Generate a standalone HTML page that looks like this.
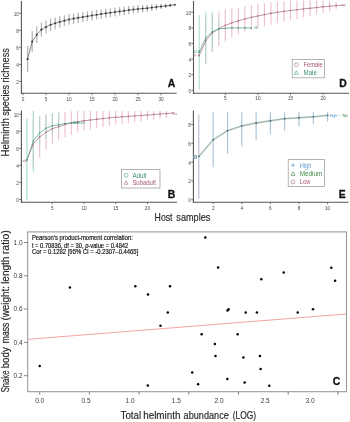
<!DOCTYPE html>
<html><head><meta charset="utf-8"><style>
html,body{margin:0;padding:0;background:#fff;width:350px;height:422px;overflow:hidden}
svg{display:block;font-family:"Liberation Sans", sans-serif;will-change:transform}
</style></head><body>
<svg width="350" height="422" viewBox="0 0 350 422">
<rect width="350" height="422" fill="#fff"/>
<line x1="21.40" y1="1.00" x2="21.40" y2="93.80" stroke="#555555" stroke-width="1.1" />
<line x1="20.80" y1="93.20" x2="176.60" y2="93.20" stroke="#555555" stroke-width="1.1" />
<line x1="19.20" y1="81.46" x2="21.40" y2="81.46" stroke="#555555" stroke-width="0.8" />
<text x="18.90" y="83.96" font-size="4.7" fill="#454545" text-anchor="end" font-weight="normal" >2</text>
<line x1="19.20" y1="64.42" x2="21.40" y2="64.42" stroke="#555555" stroke-width="0.8" />
<text x="18.90" y="66.92" font-size="4.7" fill="#454545" text-anchor="end" font-weight="normal" >4</text>
<line x1="19.20" y1="47.38" x2="21.40" y2="47.38" stroke="#555555" stroke-width="0.8" />
<text x="18.90" y="49.88" font-size="4.7" fill="#454545" text-anchor="end" font-weight="normal" >6</text>
<line x1="19.20" y1="30.34" x2="21.40" y2="30.34" stroke="#555555" stroke-width="0.8" />
<text x="18.90" y="32.84" font-size="4.7" fill="#454545" text-anchor="end" font-weight="normal" >8</text>
<line x1="19.20" y1="13.30" x2="21.40" y2="13.30" stroke="#555555" stroke-width="0.8" />
<text x="18.90" y="15.80" font-size="4.7" fill="#454545" text-anchor="end" font-weight="normal" >10</text>
<line x1="23.00" y1="93.20" x2="23.00" y2="95.20" stroke="#555555" stroke-width="0.8" />
<text x="23.00" y="100.60" font-size="4.7" fill="#454545" text-anchor="middle" font-weight="normal" >0</text>
<line x1="46.00" y1="93.20" x2="46.00" y2="95.20" stroke="#555555" stroke-width="0.8" />
<text x="46.00" y="100.60" font-size="4.7" fill="#454545" text-anchor="middle" font-weight="normal" >5</text>
<line x1="69.00" y1="93.20" x2="69.00" y2="95.20" stroke="#555555" stroke-width="0.8" />
<text x="69.00" y="100.60" font-size="4.7" fill="#454545" text-anchor="middle" font-weight="normal" >10</text>
<line x1="92.00" y1="93.20" x2="92.00" y2="95.20" stroke="#555555" stroke-width="0.8" />
<text x="92.00" y="100.60" font-size="4.7" fill="#454545" text-anchor="middle" font-weight="normal" >15</text>
<line x1="115.00" y1="93.20" x2="115.00" y2="95.20" stroke="#555555" stroke-width="0.8" />
<text x="115.00" y="100.60" font-size="4.7" fill="#454545" text-anchor="middle" font-weight="normal" >20</text>
<line x1="138.00" y1="93.20" x2="138.00" y2="95.20" stroke="#555555" stroke-width="0.8" />
<text x="138.00" y="100.60" font-size="4.7" fill="#454545" text-anchor="middle" font-weight="normal" >25</text>
<line x1="161.00" y1="93.20" x2="161.00" y2="95.20" stroke="#555555" stroke-width="0.8" />
<text x="161.00" y="100.60" font-size="4.7" fill="#454545" text-anchor="middle" font-weight="normal" >30</text>
<line x1="27.60" y1="46.02" x2="27.60" y2="72.26" stroke="#b4b4b4" stroke-width="1.3" />
<line x1="32.20" y1="30.94" x2="32.20" y2="52.24" stroke="#b4b4b4" stroke-width="1.3" />
<line x1="36.80" y1="26.51" x2="36.80" y2="43.03" stroke="#b4b4b4" stroke-width="1.3" />
<line x1="41.40" y1="22.67" x2="41.40" y2="36.64" stroke="#b4b4b4" stroke-width="1.3" />
<line x1="46.00" y1="20.54" x2="46.00" y2="33.32" stroke="#b4b4b4" stroke-width="1.3" />
<line x1="50.60" y1="18.67" x2="50.60" y2="30.94" stroke="#b4b4b4" stroke-width="1.3" />
<line x1="55.20" y1="17.43" x2="55.20" y2="29.19" stroke="#b4b4b4" stroke-width="1.3" />
<line x1="59.80" y1="16.20" x2="59.80" y2="27.44" stroke="#b4b4b4" stroke-width="1.3" />
<line x1="64.40" y1="15.13" x2="64.40" y2="26.12" stroke="#b4b4b4" stroke-width="1.3" />
<line x1="69.00" y1="14.07" x2="69.00" y2="24.80" stroke="#b4b4b4" stroke-width="1.3" />
<line x1="73.60" y1="13.39" x2="73.60" y2="23.86" stroke="#b4b4b4" stroke-width="1.3" />
<line x1="78.20" y1="12.70" x2="78.20" y2="22.93" stroke="#b4b4b4" stroke-width="1.3" />
<line x1="82.80" y1="12.03" x2="82.80" y2="22.07" stroke="#b4b4b4" stroke-width="1.3" />
<line x1="87.40" y1="11.35" x2="87.40" y2="21.21" stroke="#b4b4b4" stroke-width="1.3" />
<line x1="92.00" y1="10.68" x2="92.00" y2="20.35" stroke="#b4b4b4" stroke-width="1.3" />
<line x1="96.60" y1="10.01" x2="96.60" y2="19.49" stroke="#b4b4b4" stroke-width="1.3" />
<line x1="101.20" y1="9.42" x2="101.20" y2="18.72" stroke="#b4b4b4" stroke-width="1.3" />
<line x1="105.80" y1="8.83" x2="105.80" y2="17.94" stroke="#b4b4b4" stroke-width="1.3" />
<line x1="110.40" y1="8.24" x2="110.40" y2="17.17" stroke="#b4b4b4" stroke-width="1.3" />
<line x1="115.00" y1="7.65" x2="115.00" y2="16.40" stroke="#b4b4b4" stroke-width="1.3" />
<line x1="119.60" y1="7.10" x2="119.60" y2="15.66" stroke="#b4b4b4" stroke-width="1.3" />
<line x1="124.20" y1="6.55" x2="124.20" y2="14.93" stroke="#b4b4b4" stroke-width="1.3" />
<line x1="128.80" y1="6.01" x2="128.80" y2="14.20" stroke="#b4b4b4" stroke-width="1.3" />
<line x1="133.40" y1="5.46" x2="133.40" y2="13.47" stroke="#b4b4b4" stroke-width="1.3" />
<line x1="138.00" y1="5.18" x2="138.00" y2="12.90" stroke="#b4b4b4" stroke-width="1.3" />
<line x1="142.60" y1="4.91" x2="142.60" y2="12.32" stroke="#b4b4b4" stroke-width="1.3" />
<line x1="147.20" y1="4.63" x2="147.20" y2="11.75" stroke="#b4b4b4" stroke-width="1.3" />
<line x1="151.80" y1="4.21" x2="151.80" y2="11.03" stroke="#b4b4b4" stroke-width="1.3" />
<line x1="156.40" y1="4.07" x2="156.40" y2="10.03" stroke="#b4b4b4" stroke-width="1.3" />
<line x1="161.00" y1="3.93" x2="161.00" y2="9.04" stroke="#b4b4b4" stroke-width="1.3" />
<line x1="165.60" y1="3.80" x2="165.60" y2="8.06" stroke="#b4b4b4" stroke-width="1.3" />
<line x1="170.20" y1="3.93" x2="170.20" y2="6.82" stroke="#b4b4b4" stroke-width="1.3" />
<polyline points="27.60,59.14 32.20,41.59 36.80,34.77 41.40,29.66 46.00,26.93 50.60,24.80 55.20,23.31 59.80,21.82 64.40,20.63 69.00,19.43 73.60,18.62 78.20,17.82 82.80,17.05 87.40,16.28 92.00,15.52 96.60,14.75 101.20,14.07 105.80,13.39 110.40,12.70 115.00,12.02 119.60,11.38 124.20,10.74 128.80,10.11 133.40,9.47 138.00,9.04 142.60,8.61 147.20,8.19 151.80,7.62 156.40,7.05 161.00,6.48 165.60,5.93 170.20,5.38 174.80,4.78" fill="none" stroke="#666" stroke-width="0.8" />
<circle cx="27.60" cy="59.14" r="1.05" fill="#3a3a3a"/>
<circle cx="32.20" cy="41.59" r="1.05" fill="#3a3a3a"/>
<circle cx="36.80" cy="34.77" r="1.05" fill="#3a3a3a"/>
<circle cx="41.40" cy="29.66" r="1.05" fill="#3a3a3a"/>
<circle cx="46.00" cy="26.93" r="1.05" fill="#3a3a3a"/>
<circle cx="50.60" cy="24.80" r="1.05" fill="#3a3a3a"/>
<circle cx="55.20" cy="23.31" r="1.05" fill="#3a3a3a"/>
<circle cx="59.80" cy="21.82" r="1.05" fill="#3a3a3a"/>
<circle cx="64.40" cy="20.63" r="1.05" fill="#3a3a3a"/>
<circle cx="69.00" cy="19.43" r="1.05" fill="#3a3a3a"/>
<circle cx="73.60" cy="18.62" r="1.05" fill="#3a3a3a"/>
<circle cx="78.20" cy="17.82" r="1.05" fill="#3a3a3a"/>
<circle cx="82.80" cy="17.05" r="1.05" fill="#3a3a3a"/>
<circle cx="87.40" cy="16.28" r="1.05" fill="#3a3a3a"/>
<circle cx="92.00" cy="15.52" r="1.05" fill="#3a3a3a"/>
<circle cx="96.60" cy="14.75" r="1.05" fill="#3a3a3a"/>
<circle cx="101.20" cy="14.07" r="1.05" fill="#3a3a3a"/>
<circle cx="105.80" cy="13.39" r="1.05" fill="#3a3a3a"/>
<circle cx="110.40" cy="12.70" r="1.05" fill="#3a3a3a"/>
<circle cx="115.00" cy="12.02" r="1.05" fill="#3a3a3a"/>
<circle cx="119.60" cy="11.38" r="1.05" fill="#3a3a3a"/>
<circle cx="124.20" cy="10.74" r="1.05" fill="#3a3a3a"/>
<circle cx="128.80" cy="10.11" r="1.05" fill="#3a3a3a"/>
<circle cx="133.40" cy="9.47" r="1.05" fill="#3a3a3a"/>
<circle cx="138.00" cy="9.04" r="1.05" fill="#3a3a3a"/>
<circle cx="142.60" cy="8.61" r="1.05" fill="#3a3a3a"/>
<circle cx="147.20" cy="8.19" r="1.05" fill="#3a3a3a"/>
<circle cx="151.80" cy="7.62" r="1.05" fill="#3a3a3a"/>
<circle cx="156.40" cy="7.05" r="1.05" fill="#3a3a3a"/>
<circle cx="161.00" cy="6.48" r="1.05" fill="#3a3a3a"/>
<circle cx="165.60" cy="5.93" r="1.05" fill="#3a3a3a"/>
<circle cx="170.20" cy="5.38" r="1.05" fill="#3a3a3a"/>
<circle cx="174.80" cy="4.78" r="1.05" fill="#3a3a3a"/>
<text x="171.60" y="87.00" font-size="10.4" fill="#111" text-anchor="middle" font-weight="bold" stroke="#111" stroke-width="0.3">A</text>
<line x1="193.50" y1="1.00" x2="193.50" y2="93.80" stroke="#555555" stroke-width="1.1" />
<line x1="192.90" y1="93.20" x2="349.00" y2="93.20" stroke="#555555" stroke-width="1.1" />
<line x1="191.30" y1="90.30" x2="193.50" y2="90.30" stroke="#555555" stroke-width="0.8" />
<text x="191.00" y="92.80" font-size="4.7" fill="#454545" text-anchor="end" font-weight="normal" >0</text>
<line x1="191.30" y1="74.70" x2="193.50" y2="74.70" stroke="#555555" stroke-width="0.8" />
<text x="191.00" y="77.20" font-size="4.7" fill="#454545" text-anchor="end" font-weight="normal" >2</text>
<line x1="191.30" y1="59.10" x2="193.50" y2="59.10" stroke="#555555" stroke-width="0.8" />
<text x="191.00" y="61.60" font-size="4.7" fill="#454545" text-anchor="end" font-weight="normal" >4</text>
<line x1="191.30" y1="43.50" x2="193.50" y2="43.50" stroke="#555555" stroke-width="0.8" />
<text x="191.00" y="46.00" font-size="4.7" fill="#454545" text-anchor="end" font-weight="normal" >6</text>
<line x1="191.30" y1="27.90" x2="193.50" y2="27.90" stroke="#555555" stroke-width="0.8" />
<text x="191.00" y="30.40" font-size="4.7" fill="#454545" text-anchor="end" font-weight="normal" >8</text>
<line x1="191.30" y1="12.30" x2="193.50" y2="12.30" stroke="#555555" stroke-width="0.8" />
<text x="191.00" y="14.80" font-size="4.7" fill="#454545" text-anchor="end" font-weight="normal" >10</text>
<line x1="225.30" y1="93.20" x2="225.30" y2="95.20" stroke="#555555" stroke-width="0.8" />
<text x="225.30" y="100.40" font-size="4.7" fill="#454545" text-anchor="middle" font-weight="normal" >5</text>
<line x1="257.90" y1="93.20" x2="257.90" y2="95.20" stroke="#555555" stroke-width="0.8" />
<text x="257.90" y="100.40" font-size="4.7" fill="#454545" text-anchor="middle" font-weight="normal" >10</text>
<line x1="290.50" y1="93.20" x2="290.50" y2="95.20" stroke="#555555" stroke-width="0.8" />
<text x="290.50" y="100.40" font-size="4.7" fill="#454545" text-anchor="middle" font-weight="normal" >15</text>
<line x1="323.10" y1="93.20" x2="323.10" y2="95.20" stroke="#555555" stroke-width="0.8" />
<text x="323.10" y="100.40" font-size="4.7" fill="#454545" text-anchor="middle" font-weight="normal" >20</text>
<line x1="205.74" y1="17.21" x2="205.74" y2="64.01" stroke="#eec3d1" stroke-width="1.2" />
<line x1="212.26" y1="13.86" x2="212.26" y2="52.08" stroke="#eec3d1" stroke-width="1.2" />
<line x1="218.78" y1="11.29" x2="218.78" y2="46.07" stroke="#eec3d1" stroke-width="1.2" />
<line x1="225.30" y1="9.26" x2="225.30" y2="41.39" stroke="#eec3d1" stroke-width="1.2" />
<line x1="231.82" y1="8.24" x2="231.82" y2="37.42" stroke="#eec3d1" stroke-width="1.2" />
<line x1="238.34" y1="7.39" x2="238.34" y2="34.37" stroke="#eec3d1" stroke-width="1.2" />
<line x1="244.86" y1="6.06" x2="244.86" y2="31.80" stroke="#eec3d1" stroke-width="1.2" />
<line x1="251.38" y1="4.89" x2="251.38" y2="29.85" stroke="#eec3d1" stroke-width="1.2" />
<line x1="257.90" y1="3.88" x2="257.90" y2="28.06" stroke="#eec3d1" stroke-width="1.2" />
<line x1="264.42" y1="2.94" x2="264.42" y2="26.34" stroke="#eec3d1" stroke-width="1.2" />
<line x1="270.94" y1="2.08" x2="270.94" y2="24.70" stroke="#eec3d1" stroke-width="1.2" />
<line x1="277.46" y1="1.50" x2="277.46" y2="23.10" stroke="#eec3d1" stroke-width="1.2" />
<line x1="283.98" y1="1.07" x2="283.98" y2="21.66" stroke="#eec3d1" stroke-width="1.2" />
<line x1="290.50" y1="0.72" x2="290.50" y2="20.29" stroke="#eec3d1" stroke-width="1.2" />
<line x1="297.02" y1="0.44" x2="297.02" y2="19.01" stroke="#eec3d1" stroke-width="1.2" />
<line x1="303.54" y1="0.37" x2="303.54" y2="17.53" stroke="#eec3d1" stroke-width="1.2" />
<line x1="310.06" y1="0.44" x2="310.06" y2="16.04" stroke="#eec3d1" stroke-width="1.2" />
<line x1="316.58" y1="0.52" x2="316.58" y2="14.56" stroke="#eec3d1" stroke-width="1.2" />
<line x1="323.10" y1="0.76" x2="323.10" y2="12.92" stroke="#eec3d1" stroke-width="1.2" />
<line x1="329.62" y1="1.38" x2="329.62" y2="11.05" stroke="#eec3d1" stroke-width="1.2" />
<line x1="336.14" y1="2.24" x2="336.14" y2="9.10" stroke="#eec3d1" stroke-width="1.2" />
<line x1="199.22" y1="15.19" x2="199.22" y2="89.75" stroke="#aadbd0" stroke-width="1.1" />
<line x1="205.74" y1="12.85" x2="205.74" y2="62.77" stroke="#aadbd0" stroke-width="1.1" />
<line x1="212.26" y1="12.30" x2="212.26" y2="51.30" stroke="#aadbd0" stroke-width="1.1" />
<line x1="218.78" y1="19.48" x2="218.78" y2="38.20" stroke="#aadbd0" stroke-width="1.1" opacity="0.75"/>
<polyline points="199.22,55.82 205.74,40.61 212.26,32.97 218.78,28.68 225.30,25.33 231.82,22.83 238.34,20.88 244.86,18.93 251.38,17.37 257.90,15.97 264.42,14.64 270.94,13.39 277.46,12.30 283.98,11.36 290.50,10.51 297.02,9.73 303.54,8.95 310.06,8.24 316.58,7.54 323.10,6.84 329.62,6.22 336.14,5.67 342.66,5.12" fill="none" stroke="#a8687e" stroke-width="0.7" />
<circle cx="199.22" cy="55.82" r="0.8" fill="#a8687e"/>
<circle cx="205.74" cy="40.61" r="0.8" fill="#a8687e"/>
<circle cx="212.26" cy="32.97" r="0.8" fill="#a8687e"/>
<circle cx="218.78" cy="28.68" r="0.8" fill="#a8687e"/>
<circle cx="225.30" cy="25.33" r="0.8" fill="#a8687e"/>
<circle cx="231.82" cy="22.83" r="0.8" fill="#a8687e"/>
<circle cx="238.34" cy="20.88" r="0.8" fill="#a8687e"/>
<circle cx="244.86" cy="18.93" r="0.8" fill="#a8687e"/>
<circle cx="251.38" cy="17.37" r="0.8" fill="#a8687e"/>
<circle cx="257.90" cy="15.97" r="0.8" fill="#a8687e"/>
<circle cx="264.42" cy="14.64" r="0.8" fill="#a8687e"/>
<circle cx="270.94" cy="13.39" r="0.8" fill="#a8687e"/>
<circle cx="277.46" cy="12.30" r="0.8" fill="#a8687e"/>
<circle cx="283.98" cy="11.36" r="0.8" fill="#a8687e"/>
<circle cx="290.50" cy="10.51" r="0.8" fill="#a8687e"/>
<circle cx="297.02" cy="9.73" r="0.8" fill="#a8687e"/>
<circle cx="303.54" cy="8.95" r="0.8" fill="#a8687e"/>
<circle cx="310.06" cy="8.24" r="0.8" fill="#a8687e"/>
<circle cx="316.58" cy="7.54" r="0.8" fill="#a8687e"/>
<circle cx="323.10" cy="6.84" r="0.8" fill="#a8687e"/>
<circle cx="329.62" cy="6.22" r="0.8" fill="#a8687e"/>
<circle cx="336.14" cy="5.67" r="0.8" fill="#a8687e"/>
<circle cx="342.66" cy="5.12" r="0.8" fill="#a8687e"/>
<polyline points="199.22,52.47 205.74,37.81 212.26,31.80 218.78,28.84 225.30,28.29 231.82,27.90 238.34,27.90 244.86,27.90 251.38,27.90" fill="none" stroke="#4f9a8a" stroke-width="0.7" />
<circle cx="199.22" cy="52.47" r="0.8" fill="#4f9a8a"/>
<circle cx="205.74" cy="37.81" r="0.8" fill="#4f9a8a"/>
<circle cx="212.26" cy="31.80" r="0.8" fill="#4f9a8a"/>
<circle cx="218.78" cy="28.84" r="0.8" fill="#4f9a8a"/>
<circle cx="225.30" cy="28.29" r="0.8" fill="#4f9a8a"/>
<circle cx="231.82" cy="27.90" r="0.8" fill="#4f9a8a"/>
<circle cx="238.34" cy="27.90" r="0.8" fill="#4f9a8a"/>
<circle cx="244.86" cy="27.90" r="0.8" fill="#4f9a8a"/>
<circle cx="251.38" cy="27.90" r="0.8" fill="#4f9a8a"/>
<text x="254.50" y="29.40" font-size="3.5" fill="#4f9a8a" text-anchor="start" font-weight="normal" >M</text>
<text x="343.60" y="6.60" font-size="3.5" fill="#a8687e" text-anchor="start" font-weight="normal" >F</text>
<text x="195.50" y="53.40" font-size="3.0" fill="#4f9a8a" text-anchor="middle" font-weight="normal" >M</text>
<text x="198.90" y="53.40" font-size="3.0" fill="#4f9a8a" text-anchor="middle" font-weight="normal" >M</text>
<text x="195.50" y="57.40" font-size="3.0" fill="#a8687e" text-anchor="middle" font-weight="normal" >F</text>
<text x="198.90" y="57.40" font-size="3.0" fill="#a8687e" text-anchor="middle" font-weight="normal" >F</text>
<rect x="292.2" y="59.6" width="32.4" height="18.2" fill="white" stroke="#9a9a9a" stroke-width="0.75"/>
<circle cx="296.4" cy="64.6" r="1.9" fill="none" stroke="#a8687e" stroke-width="0.6"/>
<path d="M294.4,74.4 L296.4,70.8 L298.4,74.4 Z" fill="none" stroke="#4f9a8a" stroke-width="0.6"/>
<text x="303.60" y="67.00" font-size="6.8" fill="#a85574" text-anchor="start" font-weight="normal" textLength="19.2" lengthAdjust="spacingAndGlyphs">Female</text>
<text x="303.60" y="75.20" font-size="6.8" fill="#3f8d7e" text-anchor="start" font-weight="normal" textLength="13.2" lengthAdjust="spacingAndGlyphs">Male</text>
<text x="343.00" y="86.90" font-size="10.4" fill="#111" text-anchor="middle" font-weight="bold" stroke="#111" stroke-width="0.3">D</text>
<line x1="21.40" y1="110.60" x2="21.40" y2="202.80" stroke="#555555" stroke-width="1.1" />
<line x1="20.80" y1="202.20" x2="177.00" y2="202.20" stroke="#555555" stroke-width="1.1" />
<line x1="19.20" y1="199.50" x2="21.40" y2="199.50" stroke="#555555" stroke-width="0.8" />
<text x="18.90" y="202.00" font-size="4.7" fill="#454545" text-anchor="end" font-weight="normal" >0</text>
<line x1="19.20" y1="182.46" x2="21.40" y2="182.46" stroke="#555555" stroke-width="0.8" />
<text x="18.90" y="184.96" font-size="4.7" fill="#454545" text-anchor="end" font-weight="normal" >2</text>
<line x1="19.20" y1="165.42" x2="21.40" y2="165.42" stroke="#555555" stroke-width="0.8" />
<text x="18.90" y="167.92" font-size="4.7" fill="#454545" text-anchor="end" font-weight="normal" >4</text>
<line x1="19.20" y1="148.38" x2="21.40" y2="148.38" stroke="#555555" stroke-width="0.8" />
<text x="18.90" y="150.88" font-size="4.7" fill="#454545" text-anchor="end" font-weight="normal" >6</text>
<line x1="19.20" y1="131.34" x2="21.40" y2="131.34" stroke="#555555" stroke-width="0.8" />
<text x="18.90" y="133.84" font-size="4.7" fill="#454545" text-anchor="end" font-weight="normal" >8</text>
<line x1="19.20" y1="114.30" x2="21.40" y2="114.30" stroke="#555555" stroke-width="0.8" />
<text x="18.90" y="116.80" font-size="4.7" fill="#454545" text-anchor="end" font-weight="normal" >10</text>
<line x1="52.30" y1="202.20" x2="52.30" y2="204.20" stroke="#555555" stroke-width="0.8" />
<text x="52.30" y="209.80" font-size="4.7" fill="#454545" text-anchor="middle" font-weight="normal" >5</text>
<line x1="84.00" y1="202.20" x2="84.00" y2="204.20" stroke="#555555" stroke-width="0.8" />
<text x="84.00" y="209.80" font-size="4.7" fill="#454545" text-anchor="middle" font-weight="normal" >10</text>
<line x1="115.70" y1="202.20" x2="115.70" y2="204.20" stroke="#555555" stroke-width="0.8" />
<text x="115.70" y="209.80" font-size="4.7" fill="#454545" text-anchor="middle" font-weight="normal" >15</text>
<line x1="147.40" y1="202.20" x2="147.40" y2="204.20" stroke="#555555" stroke-width="0.8" />
<text x="147.40" y="209.80" font-size="4.7" fill="#454545" text-anchor="middle" font-weight="normal" >20</text>
<line x1="33.28" y1="121.20" x2="33.28" y2="167.21" stroke="#eec3d1" stroke-width="1.2" />
<line x1="39.62" y1="116.26" x2="39.62" y2="157.84" stroke="#eec3d1" stroke-width="1.2" />
<line x1="45.96" y1="114.56" x2="45.96" y2="150.00" stroke="#eec3d1" stroke-width="1.2" />
<line x1="52.30" y1="113.36" x2="52.30" y2="144.03" stroke="#eec3d1" stroke-width="1.2" />
<line x1="58.64" y1="112.77" x2="58.64" y2="140.54" stroke="#eec3d1" stroke-width="1.2" />
<line x1="64.98" y1="112.08" x2="64.98" y2="136.96" stroke="#eec3d1" stroke-width="1.2" />
<line x1="71.32" y1="111.32" x2="71.32" y2="134.66" stroke="#eec3d1" stroke-width="1.2" />
<line x1="77.66" y1="111.00" x2="77.66" y2="132.62" stroke="#eec3d1" stroke-width="1.2" />
<line x1="84.00" y1="111.00" x2="84.00" y2="130.83" stroke="#eec3d1" stroke-width="1.2" />
<line x1="90.34" y1="111.00" x2="90.34" y2="129.38" stroke="#eec3d1" stroke-width="1.2" />
<line x1="96.68" y1="111.00" x2="96.68" y2="128.10" stroke="#eec3d1" stroke-width="1.2" />
<line x1="103.02" y1="111.00" x2="103.02" y2="126.91" stroke="#eec3d1" stroke-width="1.2" />
<line x1="109.36" y1="111.00" x2="109.36" y2="125.72" stroke="#eec3d1" stroke-width="1.2" />
<line x1="115.70" y1="111.00" x2="115.70" y2="124.61" stroke="#eec3d1" stroke-width="1.2" />
<line x1="122.04" y1="111.00" x2="122.04" y2="123.80" stroke="#eec3d1" stroke-width="1.2" />
<line x1="128.38" y1="111.00" x2="128.38" y2="122.95" stroke="#eec3d1" stroke-width="1.2" />
<line x1="134.72" y1="111.00" x2="134.72" y2="122.11" stroke="#eec3d1" stroke-width="1.2" />
<line x1="141.06" y1="111.00" x2="141.06" y2="121.26" stroke="#eec3d1" stroke-width="1.2" />
<line x1="147.40" y1="111.00" x2="147.40" y2="120.42" stroke="#eec3d1" stroke-width="1.2" />
<line x1="153.74" y1="111.00" x2="153.74" y2="119.57" stroke="#eec3d1" stroke-width="1.2" />
<line x1="160.08" y1="111.00" x2="160.08" y2="118.72" stroke="#eec3d1" stroke-width="1.2" />
<line x1="166.42" y1="111.00" x2="166.42" y2="117.88" stroke="#eec3d1" stroke-width="1.2" />
<line x1="26.94" y1="119.07" x2="26.94" y2="200.86" stroke="#aadbd0" stroke-width="1.2" />
<line x1="33.28" y1="111.00" x2="33.28" y2="171.38" stroke="#aadbd0" stroke-width="1.2" />
<line x1="39.62" y1="116.26" x2="39.62" y2="144.12" stroke="#aadbd0" stroke-width="1.2" opacity="0.8"/>
<line x1="45.96" y1="114.56" x2="45.96" y2="138.92" stroke="#aadbd0" stroke-width="1.2" opacity="0.8"/>
<line x1="52.30" y1="113.36" x2="52.30" y2="134.75" stroke="#aadbd0" stroke-width="1.2" opacity="0.8"/>
<line x1="58.64" y1="112.77" x2="58.64" y2="130.74" stroke="#aadbd0" stroke-width="1.2" opacity="0.8"/>
<polyline points="26.94,159.97 33.28,144.21 39.62,137.05 45.96,132.28 52.30,128.70 58.64,126.65 64.98,124.52 71.32,122.99 77.66,121.71 84.00,120.69 90.34,120.01 96.68,119.24 103.02,118.56 109.36,117.88 115.70,117.28 122.04,116.86 128.38,116.39 134.72,115.93 141.06,115.47 147.40,115.01 153.74,114.54 160.08,114.08 166.42,113.62 172.76,113.02" fill="none" stroke="#a8687e" stroke-width="0.7" />
<circle cx="26.94" cy="159.97" r="0.8" fill="#a8687e"/>
<circle cx="33.28" cy="144.21" r="0.8" fill="#a8687e"/>
<circle cx="39.62" cy="137.05" r="0.8" fill="#a8687e"/>
<circle cx="45.96" cy="132.28" r="0.8" fill="#a8687e"/>
<circle cx="52.30" cy="128.70" r="0.8" fill="#a8687e"/>
<circle cx="58.64" cy="126.65" r="0.8" fill="#a8687e"/>
<circle cx="64.98" cy="124.52" r="0.8" fill="#a8687e"/>
<circle cx="71.32" cy="122.99" r="0.8" fill="#a8687e"/>
<circle cx="77.66" cy="121.71" r="0.8" fill="#a8687e"/>
<circle cx="84.00" cy="120.69" r="0.8" fill="#a8687e"/>
<circle cx="90.34" cy="120.01" r="0.8" fill="#a8687e"/>
<circle cx="96.68" cy="119.24" r="0.8" fill="#a8687e"/>
<circle cx="103.02" cy="118.56" r="0.8" fill="#a8687e"/>
<circle cx="109.36" cy="117.88" r="0.8" fill="#a8687e"/>
<circle cx="115.70" cy="117.28" r="0.8" fill="#a8687e"/>
<circle cx="122.04" cy="116.86" r="0.8" fill="#a8687e"/>
<circle cx="128.38" cy="116.39" r="0.8" fill="#a8687e"/>
<circle cx="134.72" cy="115.93" r="0.8" fill="#a8687e"/>
<circle cx="141.06" cy="115.47" r="0.8" fill="#a8687e"/>
<circle cx="147.40" cy="115.01" r="0.8" fill="#a8687e"/>
<circle cx="153.74" cy="114.54" r="0.8" fill="#a8687e"/>
<circle cx="160.08" cy="114.08" r="0.8" fill="#a8687e"/>
<circle cx="166.42" cy="113.62" r="0.8" fill="#a8687e"/>
<circle cx="172.76" cy="113.02" r="0.8" fill="#a8687e"/>
<polyline points="26.94,159.97 33.28,141.14 39.62,133.04 45.96,128.27 52.30,125.89 58.64,124.69 64.98,123.67 71.32,122.82 77.66,122.65" fill="none" stroke="#4f9a8a" stroke-width="0.7" />
<circle cx="26.94" cy="159.97" r="0.8" fill="#4f9a8a"/>
<circle cx="33.28" cy="141.14" r="0.8" fill="#4f9a8a"/>
<circle cx="39.62" cy="133.04" r="0.8" fill="#4f9a8a"/>
<circle cx="45.96" cy="128.27" r="0.8" fill="#4f9a8a"/>
<circle cx="52.30" cy="125.89" r="0.8" fill="#4f9a8a"/>
<circle cx="58.64" cy="124.69" r="0.8" fill="#4f9a8a"/>
<circle cx="64.98" cy="123.67" r="0.8" fill="#4f9a8a"/>
<circle cx="71.32" cy="122.82" r="0.8" fill="#4f9a8a"/>
<circle cx="77.66" cy="122.65" r="0.8" fill="#4f9a8a"/>
<text x="72.60" y="123.70" font-size="4.4" fill="#4f9a8a" text-anchor="start" font-weight="normal" textLength="12.5" lengthAdjust="spacingAndGlyphs">Adult</text>
<text x="172.50" y="114.50" font-size="3.6" fill="#a8687e" text-anchor="start" font-weight="normal" >Su</text>
<text x="22.50" y="161.50" font-size="3.6" fill="#a8687e" text-anchor="start" font-weight="normal" >sd</text>
<rect x="121.4" y="169.4" width="38.6" height="18.6" fill="white" stroke="#9a9a9a" stroke-width="0.75"/>
<circle cx="126.2" cy="175.2" r="1.9" fill="none" stroke="#4f9a8a" stroke-width="0.6"/>
<path d="M124.1,184.3 L126.1,180.7 L128.1,184.3 Z" fill="none" stroke="#a8687e" stroke-width="0.6"/>
<text x="132.40" y="177.50" font-size="6.8" fill="#3f8d7e" text-anchor="start" font-weight="normal" textLength="14.2" lengthAdjust="spacingAndGlyphs">Adult</text>
<text x="132.40" y="184.90" font-size="6.8" fill="#a85574" text-anchor="start" font-weight="normal" textLength="23.5" lengthAdjust="spacingAndGlyphs">Subadult</text>
<text x="171.50" y="198.00" font-size="10.4" fill="#111" text-anchor="middle" font-weight="bold" stroke="#111" stroke-width="0.3">B</text>
<line x1="193.40" y1="110.60" x2="193.40" y2="202.80" stroke="#555555" stroke-width="1.1" />
<line x1="192.80" y1="202.20" x2="348.60" y2="202.20" stroke="#555555" stroke-width="1.1" />
<line x1="191.20" y1="199.70" x2="193.40" y2="199.70" stroke="#555555" stroke-width="0.8" />
<text x="190.90" y="202.20" font-size="4.7" fill="#454545" text-anchor="end" font-weight="normal" >0</text>
<line x1="191.20" y1="180.90" x2="193.40" y2="180.90" stroke="#555555" stroke-width="0.8" />
<text x="190.90" y="183.40" font-size="4.7" fill="#454545" text-anchor="end" font-weight="normal" >2</text>
<line x1="191.20" y1="162.10" x2="193.40" y2="162.10" stroke="#555555" stroke-width="0.8" />
<text x="190.90" y="164.60" font-size="4.7" fill="#454545" text-anchor="end" font-weight="normal" >4</text>
<line x1="191.20" y1="143.30" x2="193.40" y2="143.30" stroke="#555555" stroke-width="0.8" />
<text x="190.90" y="145.80" font-size="4.7" fill="#454545" text-anchor="end" font-weight="normal" >6</text>
<line x1="191.20" y1="124.50" x2="193.40" y2="124.50" stroke="#555555" stroke-width="0.8" />
<text x="190.90" y="127.00" font-size="4.7" fill="#454545" text-anchor="end" font-weight="normal" >8</text>
<line x1="213.20" y1="202.20" x2="213.20" y2="204.20" stroke="#555555" stroke-width="0.8" />
<text x="213.20" y="209.80" font-size="4.7" fill="#454545" text-anchor="middle" font-weight="normal" >2</text>
<line x1="241.80" y1="202.20" x2="241.80" y2="204.20" stroke="#555555" stroke-width="0.8" />
<text x="241.80" y="209.80" font-size="4.7" fill="#454545" text-anchor="middle" font-weight="normal" >4</text>
<line x1="270.40" y1="202.20" x2="270.40" y2="204.20" stroke="#555555" stroke-width="0.8" />
<text x="270.40" y="209.80" font-size="4.7" fill="#454545" text-anchor="middle" font-weight="normal" >6</text>
<line x1="299.00" y1="202.20" x2="299.00" y2="204.20" stroke="#555555" stroke-width="0.8" />
<text x="299.00" y="209.80" font-size="4.7" fill="#454545" text-anchor="middle" font-weight="normal" >8</text>
<line x1="327.60" y1="202.20" x2="327.60" y2="204.20" stroke="#555555" stroke-width="0.8" />
<text x="327.60" y="209.80" font-size="4.7" fill="#454545" text-anchor="middle" font-weight="normal" >10</text>
<line x1="198.50" y1="114.16" x2="198.50" y2="199.23" stroke="#f0d0da" stroke-width="1.0" />
<line x1="198.90" y1="115.01" x2="198.90" y2="197.91" stroke="#a6c2d6" stroke-width="1.1" opacity="0.75"/>
<line x1="213.20" y1="112.28" x2="213.20" y2="167.27" stroke="#a6c2d6" stroke-width="1.1" />
<line x1="227.50" y1="112.28" x2="227.50" y2="153.64" stroke="#a6c2d6" stroke-width="1.1" />
<line x1="241.80" y1="112.28" x2="241.80" y2="146.40" stroke="#a6c2d6" stroke-width="1.1" />
<line x1="256.10" y1="112.28" x2="256.10" y2="139.92" stroke="#a6c2d6" stroke-width="1.1" />
<line x1="270.40" y1="112.28" x2="270.40" y2="134.09" stroke="#a6c2d6" stroke-width="1.1" />
<line x1="284.70" y1="112.28" x2="284.70" y2="130.70" stroke="#a6c2d6" stroke-width="1.1" />
<line x1="299.00" y1="112.28" x2="299.00" y2="126.57" stroke="#a6c2d6" stroke-width="1.1" />
<line x1="313.30" y1="112.28" x2="313.30" y2="124.03" stroke="#a6c2d6" stroke-width="1.1" />
<line x1="327.60" y1="112.28" x2="327.60" y2="121.40" stroke="#a6c2d6" stroke-width="1.1" />
<polyline points="198.90,156.46 213.20,139.73 227.50,130.70 241.80,125.91 256.10,123.00 270.40,120.74 284.70,118.67 299.00,117.73 313.30,116.79 327.60,115.38" fill="none" stroke="#cfe3dc" stroke-width="2.0" />
<polyline points="198.90,156.46 213.20,139.73 227.50,130.70 241.80,125.91 256.10,123.00 270.40,120.74 284.70,118.67 299.00,117.73 313.30,116.79 327.60,115.38" fill="none" stroke="#8a9893" stroke-width="0.7" />
<circle cx="198.90" cy="156.46" r="0.9" fill="#52605b"/>
<circle cx="213.20" cy="139.73" r="0.9" fill="#52605b"/>
<circle cx="227.50" cy="130.70" r="0.9" fill="#52605b"/>
<circle cx="241.80" cy="125.91" r="0.9" fill="#52605b"/>
<circle cx="256.10" cy="123.00" r="0.9" fill="#52605b"/>
<circle cx="270.40" cy="120.74" r="0.9" fill="#52605b"/>
<circle cx="284.70" cy="118.67" r="0.9" fill="#52605b"/>
<circle cx="299.00" cy="117.73" r="0.9" fill="#52605b"/>
<circle cx="313.30" cy="116.79" r="0.9" fill="#52605b"/>
<circle cx="327.60" cy="115.38" r="0.9" fill="#52605b"/>
<line x1="327.60" y1="115.38" x2="346.00" y2="114.88" stroke="#8fb0c8" stroke-width="0.6" stroke-dasharray="1,1"/>
<text x="330.00" y="116.80" font-size="3.5" fill="#5b9bd0" text-anchor="start" font-weight="normal" >High</text>
<text x="343.00" y="116.80" font-size="3.5" fill="#3f8a45" text-anchor="start" font-weight="normal" >Me</text>
<rect x="193.4" y="155.4" width="3.2" height="3.2" fill="#a9c8d8" stroke="#5a7a8a" stroke-width="0.5"/>
<rect x="288.2" y="159.5" width="36.4" height="27.0" fill="white" stroke="#9a9a9a" stroke-width="0.75"/>
<line x1="291.20" y1="165.20" x2="294.80" y2="165.20" stroke="#5b9bd0" stroke-width="0.7" />
<line x1="293.00" y1="163.40" x2="293.00" y2="167.00" stroke="#5b9bd0" stroke-width="0.7" />
<path d="M291.0,175.4 L293.0,171.8 L295.0,175.4 Z" fill="none" stroke="#3f8a45" stroke-width="0.6"/>
<circle cx="293.0" cy="182.0" r="1.9" fill="none" stroke="#a8687e" stroke-width="0.6"/>
<text x="299.80" y="167.50" font-size="6.8" fill="#5b9bd0" text-anchor="start" font-weight="normal" textLength="11.6" lengthAdjust="spacingAndGlyphs">High</text>
<text x="299.80" y="176.00" font-size="6.8" fill="#3f8a45" text-anchor="start" font-weight="normal" textLength="22.5" lengthAdjust="spacingAndGlyphs">Medium</text>
<text x="299.80" y="184.30" font-size="6.8" fill="#a85574" text-anchor="start" font-weight="normal" textLength="10.6" lengthAdjust="spacingAndGlyphs">Low</text>
<text x="342.30" y="198.10" font-size="10.4" fill="#111" text-anchor="middle" font-weight="bold" stroke="#111" stroke-width="0.3">E</text>
<text x="-156.58" y="0" font-size="10.9" fill="#262626" stroke="#262626" stroke-width="0.16" lengthAdjust="spacingAndGlyphs" transform="translate(8.80,0) rotate(-90)" textLength="38.52">Helminth</text>
<text x="-115.77" y="0" font-size="10.9" fill="#262626" stroke="#262626" stroke-width="0.16" lengthAdjust="spacingAndGlyphs" transform="translate(8.80,0) rotate(-90)" textLength="30.80">species</text>
<text x="-82.60" y="0" font-size="10.9" fill="#262626" stroke="#262626" stroke-width="0.16" lengthAdjust="spacingAndGlyphs" transform="translate(8.80,0) rotate(-90)" textLength="34.56">richness</text>
<text x="154.60" y="220.70" font-size="10.9" fill="#262626" stroke="#262626" stroke-width="0.16" lengthAdjust="spacingAndGlyphs" textLength="17.95">Host</text>
<text x="176.33" y="220.70" font-size="10.9" fill="#262626" stroke="#262626" stroke-width="0.16" lengthAdjust="spacingAndGlyphs" textLength="34.03">samples</text>
<rect x="27.7" y="231.9" width="318.8" height="159.8" fill="none" stroke="#9a9a9a" stroke-width="1.1"/>
<line x1="24.00" y1="242.50" x2="27.70" y2="242.50" stroke="#555" stroke-width="0.7" />
<text x="22.60" y="244.80" font-size="6.5" fill="#3a3a3a" text-anchor="end" font-weight="normal" >1.0</text>
<line x1="24.00" y1="275.80" x2="27.70" y2="275.80" stroke="#555" stroke-width="0.7" />
<text x="22.60" y="278.10" font-size="6.5" fill="#3a3a3a" text-anchor="end" font-weight="normal" >0.8</text>
<line x1="24.00" y1="309.10" x2="27.70" y2="309.10" stroke="#555" stroke-width="0.7" />
<text x="22.60" y="311.40" font-size="6.5" fill="#3a3a3a" text-anchor="end" font-weight="normal" >0.6</text>
<line x1="24.00" y1="342.40" x2="27.70" y2="342.40" stroke="#555" stroke-width="0.7" />
<text x="22.60" y="344.70" font-size="6.5" fill="#3a3a3a" text-anchor="end" font-weight="normal" >0.4</text>
<line x1="24.00" y1="375.70" x2="27.70" y2="375.70" stroke="#555" stroke-width="0.7" />
<text x="22.60" y="378.00" font-size="6.5" fill="#3a3a3a" text-anchor="end" font-weight="normal" >0.2</text>
<line x1="39.70" y1="391.70" x2="39.70" y2="394.80" stroke="#555" stroke-width="0.7" />
<line x1="89.40" y1="391.70" x2="89.40" y2="394.80" stroke="#555" stroke-width="0.7" />
<line x1="139.10" y1="391.70" x2="139.10" y2="394.80" stroke="#555" stroke-width="0.7" />
<line x1="188.80" y1="391.70" x2="188.80" y2="394.80" stroke="#555" stroke-width="0.7" />
<line x1="238.50" y1="391.70" x2="238.50" y2="394.80" stroke="#555" stroke-width="0.7" />
<line x1="288.20" y1="391.70" x2="288.20" y2="394.80" stroke="#555" stroke-width="0.7" />
<line x1="337.90" y1="391.70" x2="337.90" y2="394.80" stroke="#555" stroke-width="0.7" />
<text x="39.70" y="402.80" font-size="6.5" fill="#3a3a3a" text-anchor="middle" font-weight="normal" >0.0</text>
<text x="86.00" y="402.80" font-size="6.5" fill="#3a3a3a" text-anchor="middle" font-weight="normal" >0.5</text>
<text x="130.10" y="402.80" font-size="6.5" fill="#3a3a3a" text-anchor="middle" font-weight="normal" >1.0</text>
<text x="176.30" y="402.80" font-size="6.5" fill="#3a3a3a" text-anchor="middle" font-weight="normal" >1.5</text>
<text x="219.00" y="402.80" font-size="6.5" fill="#3a3a3a" text-anchor="middle" font-weight="normal" >2.0</text>
<text x="265.20" y="402.80" font-size="6.5" fill="#3a3a3a" text-anchor="middle" font-weight="normal" >2.5</text>
<text x="310.00" y="402.80" font-size="6.5" fill="#3a3a3a" text-anchor="middle" font-weight="normal" >3.0</text>
<line x1="28.30" y1="339.30" x2="346.00" y2="314.00" stroke="#f09a9a" stroke-width="0.9" />
<circle cx="39.70" cy="366.00" r="1.25" fill="#000"/>
<circle cx="69.90" cy="287.50" r="1.25" fill="#000"/>
<circle cx="135.30" cy="286.20" r="1.25" fill="#000"/>
<circle cx="148.00" cy="294.40" r="1.25" fill="#000"/>
<circle cx="147.80" cy="385.40" r="1.25" fill="#000"/>
<circle cx="160.50" cy="325.80" r="1.25" fill="#000"/>
<circle cx="167.80" cy="312.60" r="1.25" fill="#000"/>
<circle cx="170.00" cy="286.30" r="1.25" fill="#000"/>
<circle cx="192.20" cy="372.40" r="1.25" fill="#000"/>
<circle cx="198.10" cy="384.30" r="1.25" fill="#000"/>
<circle cx="201.60" cy="334.30" r="1.25" fill="#000"/>
<circle cx="205.30" cy="237.60" r="1.25" fill="#000"/>
<circle cx="214.90" cy="344.00" r="1.25" fill="#000"/>
<circle cx="215.50" cy="356.00" r="1.25" fill="#000"/>
<circle cx="218.10" cy="267.50" r="1.25" fill="#000"/>
<circle cx="227.50" cy="310.40" r="1.25" fill="#000"/>
<circle cx="228.60" cy="309.20" r="1.25" fill="#000"/>
<circle cx="227.40" cy="379.10" r="1.25" fill="#000"/>
<circle cx="237.70" cy="334.30" r="1.25" fill="#000"/>
<circle cx="243.40" cy="357.40" r="1.25" fill="#000"/>
<circle cx="244.60" cy="382.50" r="1.25" fill="#000"/>
<circle cx="245.70" cy="312.40" r="1.25" fill="#000"/>
<circle cx="256.90" cy="312.40" r="1.25" fill="#000"/>
<circle cx="259.90" cy="356.00" r="1.25" fill="#000"/>
<circle cx="260.60" cy="369.00" r="1.25" fill="#000"/>
<circle cx="261.30" cy="279.20" r="1.25" fill="#000"/>
<circle cx="269.30" cy="385.70" r="1.25" fill="#000"/>
<circle cx="283.70" cy="272.60" r="1.25" fill="#000"/>
<circle cx="297.70" cy="312.40" r="1.25" fill="#000"/>
<circle cx="313.00" cy="309.20" r="1.25" fill="#000"/>
<circle cx="331.30" cy="267.80" r="1.25" fill="#000"/>
<circle cx="335.10" cy="280.80" r="1.25" fill="#000"/>
<text x="31.90" y="240.20" font-size="6.7" fill="#1a1a1a" text-anchor="start" font-weight="normal" textLength="100.9" lengthAdjust="spacingAndGlyphs" stroke="#1a1a1a" stroke-width="0.2">Pearson’s product-moment correlation:</text>
<text x="31.90" y="247.60" font-size="6.7" fill="#1a1a1a" text-anchor="start" font-weight="normal" textLength="96.4" lengthAdjust="spacingAndGlyphs" stroke="#1a1a1a" stroke-width="0.2">t = 0.70836, df = 30, <tspan font-style="italic">p</tspan>-value = 0.4842</text>
<text x="31.90" y="254.10" font-size="6.7" fill="#1a1a1a" text-anchor="start" font-weight="normal" textLength="106.4" lengthAdjust="spacingAndGlyphs" stroke="#1a1a1a" stroke-width="0.2">Cor = 0.1282 [95% CI = -0.2307–0.4465]</text>
<text x="336.50" y="385.30" font-size="10.4" fill="#111" text-anchor="middle" font-weight="bold" stroke="#111" stroke-width="0.3">C</text>
<text x="-392.24" y="0" font-size="10.9" fill="#262626" stroke="#262626" stroke-width="0.16" lengthAdjust="spacingAndGlyphs" transform="translate(8.80,0) rotate(-90)" textLength="21.69">Snake</text>
<text x="-368.33" y="0" font-size="10.9" fill="#262626" stroke="#262626" stroke-width="0.16" lengthAdjust="spacingAndGlyphs" transform="translate(8.80,0) rotate(-90)" textLength="21.17">body</text>
<text x="-343.16" y="0" font-size="10.9" fill="#262626" stroke="#262626" stroke-width="0.16" lengthAdjust="spacingAndGlyphs" transform="translate(8.80,0) rotate(-90)" textLength="20.49">mass</text>
<text x="-320.59" y="0" font-size="10.9" fill="#262626" stroke="#262626" stroke-width="0.16" lengthAdjust="spacingAndGlyphs" transform="translate(8.80,0) rotate(-90)" textLength="34.49">(weight:</text>
<text x="-283.85" y="0" font-size="10.9" fill="#262626" stroke="#262626" stroke-width="0.16" lengthAdjust="spacingAndGlyphs" transform="translate(8.80,0) rotate(-90)" textLength="27.19">length</text>
<text x="-254.18" y="0" font-size="10.9" fill="#262626" stroke="#262626" stroke-width="0.16" lengthAdjust="spacingAndGlyphs" transform="translate(8.80,0) rotate(-90)" textLength="23.95">ratio)</text>
<text x="120.56" y="419.00" font-size="10.9" fill="#262626" stroke="#262626" stroke-width="0.16" lengthAdjust="spacingAndGlyphs" textLength="20.50">Total</text>
<text x="143.21" y="419.00" font-size="10.9" fill="#262626" stroke="#262626" stroke-width="0.16" lengthAdjust="spacingAndGlyphs" textLength="37.23">helminth</text>
<text x="183.59" y="419.00" font-size="10.9" fill="#262626" stroke="#262626" stroke-width="0.16" lengthAdjust="spacingAndGlyphs" textLength="45.22">abundance</text>
<text x="232.70" y="419.00" font-size="10.9" fill="#262626" stroke="#262626" stroke-width="0.16" lengthAdjust="spacingAndGlyphs" textLength="23.33">(LOG)</text>
</svg>
</body></html>
